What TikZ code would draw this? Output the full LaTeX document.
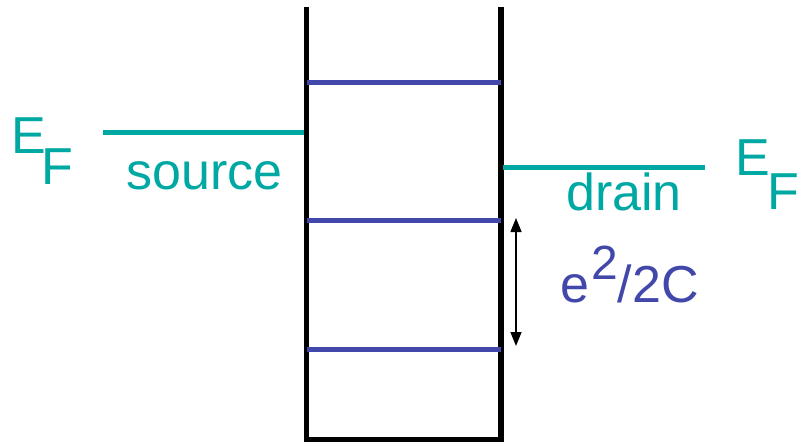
\documentclass[tikz,border=0pt]{standalone}
\usepackage{fontspec}
\setmainfont{Liberation Sans}
\usetikzlibrary{arrows.meta}
\definecolor{teal2}{RGB}{0,168,163}
\definecolor{lvlblue}{RGB}{65,72,170}
\begin{document}
\begin{tikzpicture}[x=1pt,y=-1pt,
  wall/.style={black,line width=5.5pt},
  level/.style={lvlblue,line width=5pt},
  fermi/.style={teal2,line width=5pt},
  lbl/.style={inner sep=0pt,anchor=base west,font=\fontsize{52}{60}\selectfont},
  tealtext/.style={lbl,text=teal2},
  bluetext/.style={lbl,text=lvlblue}]
\useasboundingbox (0,0) rectangle (798,445);
% well walls
\coordinate (lt) at (306.5,7);
\coordinate (lb) at (306.5,441.5);
\coordinate (rt) at (501,7);
\coordinate (rb) at (501,441.5);
\draw[wall] (lt) -- (lb);
\draw[wall] (rt) -- (rb);
\draw[black,line width=5pt] (303.75,439) -- (503.75,439);
% energy levels
\coordinate (l1a) at (307,82);  \coordinate (l1b) at (501,82);
\coordinate (l2a) at (307,220); \coordinate (l2b) at (501,220);
\coordinate (l3a) at (307,349); \coordinate (l3b) at (501,349);
\draw[level] (l1a) -- (l1b);
\draw[level] (l2a) -- (l2b);
\draw[level] (l3a) -- (l3b);
% Fermi levels
\coordinate (sa) at (103,132); \coordinate (sb) at (304,132);
\coordinate (da) at (503,167); \coordinate (db) at (705,167);
\draw[fermi] (sa) -- (sb);
\draw[fermi] (da) -- (db);
% spacing arrow
\coordinate (aa) at (516,218); \coordinate (ab) at (516,346);
\draw[black,line width=1.5pt,{Triangle[length=14pt,width=11pt]}-{Triangle[length=14pt,width=11pt]}] (aa) -- (ab);
% labels
\node[tealtext] (EL) at (11,153) {E};
\node[tealtext] (FL) at (41,184) {F};
\node[tealtext] (src) at (126,189) {source};
\node[tealtext] (drn) at (566,210) {drain};
\node[tealtext] (ER) at (735,175) {E};
\node[tealtext] (FR) at (767,209) {F};
\node[bluetext] (ch) at (560,302) {e\hspace{2pt}\raisebox{23pt}{\fontsize{48}{54}\selectfont 2}/2C};
\end{tikzpicture}
\end{document}
